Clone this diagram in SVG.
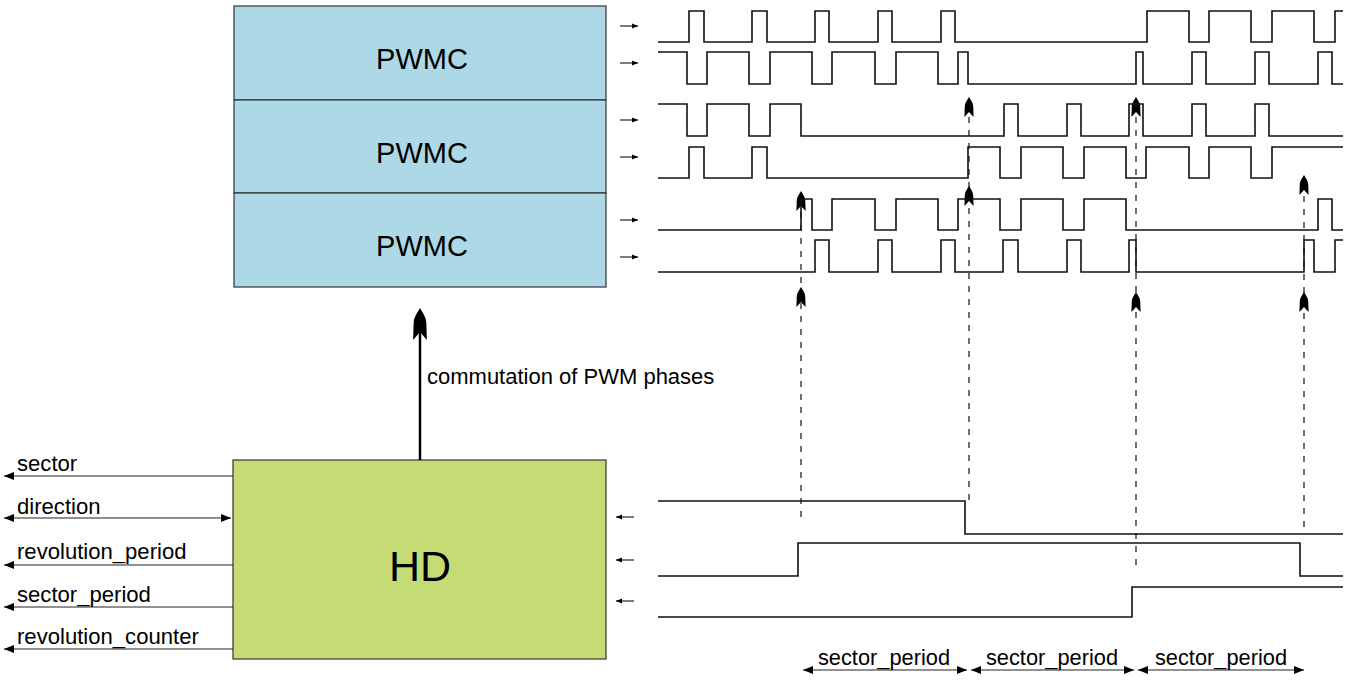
<svg xmlns="http://www.w3.org/2000/svg" width="1345" height="680" viewBox="0 0 1345 680">
<style>
.box{stroke:#333;stroke-width:1.2}
.pw{fill:#ADD8E6}
.hd{fill:#C5DB74}
.t{font-family:"Liberation Sans",Arial,sans-serif;fill:#000}
.lbl{font-size:22.1px}
.dl{font-size:21.8px}
.wave{fill:none;stroke:#111;stroke-width:1.6}
.conn{fill:none;stroke:#222;stroke-width:1.2}
.dash{fill:none;stroke:#111;stroke-width:1.2;stroke-dasharray:6 7}
.head{fill:#000}
</style>
<defs>
<marker id="ah" viewBox="0 0 10 8" refX="10" refY="4" markerWidth="10" markerHeight="8" orient="auto-start-reverse" markerUnits="userSpaceOnUse"><path d="M0,0 L10,4 L0,8 Z" fill="#000"/></marker>
<marker id="sa" viewBox="0 0 6 6" refX="6" refY="3" markerWidth="6" markerHeight="6" orient="auto" markerUnits="userSpaceOnUse"><path d="M0,0.5 L6,3 L0,5.5 Z" fill="#000"/></marker>
<path id="up" d="M0,0 C1.4,2.5 4,5.5 4.2,9 L4.6,20 L0,15 L-4.6,20 L-4.2,9 C-4,5.5 -1.4,2.5 0,0 Z"/>
</defs>

<g id="pwmc1"><rect class="box pw" x="234" y="6" width="372" height="94"/><text class="t" x="422" y="69" font-size="29" text-anchor="middle">PWMC</text></g>
<g id="pwmc2"><rect class="box pw" x="234" y="100" width="372" height="93"/><text class="t" x="422" y="163" font-size="29" text-anchor="middle">PWMC</text></g>
<g id="pwmc3"><rect class="box pw" x="234" y="193" width="372" height="94"/><text class="t" x="422" y="256" font-size="29" text-anchor="middle">PWMC</text></g>
<g id="hd"><rect class="box hd" x="233" y="460" width="373" height="199"/><text class="t" x="420" y="581" font-size="43" text-anchor="middle">HD</text></g>

<g id="connectors">
<line class="conn" x1="233" y1="476" x2="4" y2="476" marker-end="url(#ah)"/>
<line class="conn" x1="231" y1="518" x2="4" y2="518" marker-start="url(#ah)" marker-end="url(#ah)"/>
<line class="conn" x1="233" y1="565" x2="4" y2="565" marker-end="url(#ah)"/>
<line class="conn" x1="233" y1="607" x2="4" y2="607" marker-end="url(#ah)"/>
<line class="conn" x1="233" y1="649" x2="4" y2="649" marker-end="url(#ah)"/>
<text class="t lbl" x="17" y="471">sector</text>
<text class="t lbl" x="17" y="514">direction</text>
<text class="t lbl" x="17" y="559">revolution_period</text>
<text class="t lbl" x="17" y="602">sector_period</text>
<text class="t lbl" x="17" y="644">revolution_counter</text>

<line x1="420" y1="460" x2="420" y2="330" stroke="#000" stroke-width="2.5"/>
<use href="#up" class="head" transform="translate(420,308) scale(1.5,1.6)"/>
<text class="t" x="427" y="384" font-size="22">commutation of PWM phases</text>

<g id="small-arrows">
<line class="conn" x1="620" y1="26" x2="638" y2="26" marker-end="url(#sa)"/>
<line class="conn" x1="620" y1="63" x2="638" y2="63" marker-end="url(#sa)"/>
<line class="conn" x1="620" y1="120" x2="638" y2="120" marker-end="url(#sa)"/>
<line class="conn" x1="620" y1="157" x2="638" y2="157" marker-end="url(#sa)"/>
<line class="conn" x1="620" y1="220" x2="638" y2="220" marker-end="url(#sa)"/>
<line class="conn" x1="620" y1="257" x2="638" y2="257" marker-end="url(#sa)"/>
<line class="conn" x1="634" y1="517" x2="616" y2="517" marker-end="url(#sa)"/>
<line class="conn" x1="634" y1="560" x2="616" y2="560" marker-end="url(#sa)"/>
<line class="conn" x1="634" y1="601" x2="616" y2="601" marker-end="url(#sa)"/>
</g>

<g id="dashed">
<line class="dash" x1="801" y1="212" x2="801" y2="522"/>
<line class="dash" x1="969" y1="117" x2="969" y2="502"/>
<line class="dash" x1="1136" y1="117" x2="1136" y2="565"/>
<line class="dash" x1="1304" y1="196" x2="1304" y2="527"/>
<use href="#up" class="head" x="801" y="191"/>
<use href="#up" class="head" x="801" y="287"/>
<use href="#up" class="head" x="969" y="97"/>
<use href="#up" class="head" x="969" y="186"/>
<use href="#up" class="head" x="1136" y="97"/>
<use href="#up" class="head" x="1136" y="292"/>
<use href="#up" class="head" x="1304" y="175"/>
<use href="#up" class="head" x="1304" y="292"/>
</g>

<g id="dimensions">
<line class="conn" x1="803" y1="670" x2="967" y2="670" marker-start="url(#ah)" marker-end="url(#ah)"/>
<line class="conn" x1="971" y1="670" x2="1134" y2="670" marker-start="url(#ah)" marker-end="url(#ah)"/>
<line class="conn" x1="1138" y1="670" x2="1304" y2="670" marker-start="url(#ah)" marker-end="url(#ah)"/>
<text class="t dl" x="884" y="665" text-anchor="middle">sector_period</text>
<text class="t dl" x="1052" y="665" text-anchor="middle">sector_period</text>
<text class="t dl" x="1221" y="665" text-anchor="middle">sector_period</text>
</g>
</g>

<g id="waveforms">
<path class="wave" d="M658,42 H689 V11 H704 V42 H752 V11 H767 V42 H815 V11 H829 V42 H878 V11 H892 V42 H941 V11 H955 V42 H1147 V11 H1189 V42 H1209 V11 H1251 V42 H1272 V11 H1314 V42 H1335 V11 H1343"/>
<path class="wave" d="M658,52 H687 V84 H707 V52 H749 V84 H770 V52 H812 V84 H832 V52 H875 V84 H896 V52 H938 V84 H958 V52 H968 V84 H1136 V52 H1143 V84 H1192 V52 H1206 V84 H1255 V52 H1269 V84 H1318 V52 H1332 V84 H1343"/>
<path class="wave" d="M658,104 H687 V136 H707 V104 H749 V136 H770 V104 H801 V136 H1004 V104 H1018 V136 H1067 V104 H1081 V136 H1129 V104 H1143 V136 H1192 V104 H1206 V136 H1255 V104 H1269 V136 H1343"/>
<path class="wave" d="M658,178 H689 V147 H704 V178 H752 V147 H767 V178 H968 V147 H1000 V178 H1021 V147 H1063 V178 H1084 V147 H1126 V178 H1146 V147 H1189 V178 H1209 V147 H1251 V178 H1272 V147 H1343"/>
<path class="wave" d="M658,230 H801 V199 H812 V230 H832 V199 H875 V230 H896 V199 H938 V230 H958 V199 H1000 V230 H1021 V199 H1063 V230 H1084 V199 H1126 V230 H1318 V199 H1332 V230 H1343"/>
<path class="wave" d="M658,272 H815 V240 H829 V272 H878 V240 H892 V272 H941 V240 H955 V272 H1003 V240 H1018 V272 H1067 V240 H1081 V272 H1129 V240 H1136 V272 H1304 V240 H1314 V272 H1335 V240 H1343"/>
<path class="wave" d="M658,501 H965 V534 H1343"/>
<path class="wave" d="M658,576 H798 V543 H1300 V576 H1343"/>
<path class="wave" d="M658,617 H1132 V587 H1343"/>
</g>
</svg>
